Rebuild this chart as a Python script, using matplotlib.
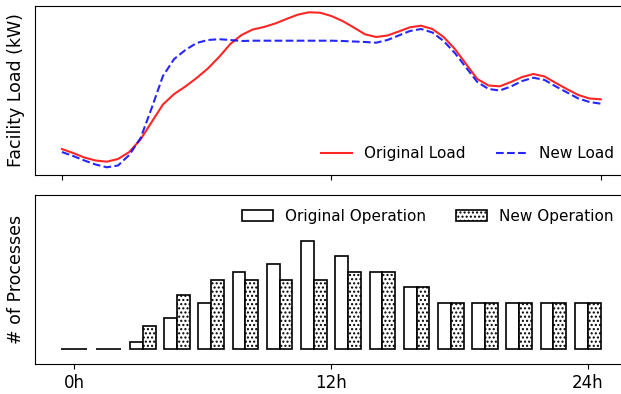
import numpy as np
import matplotlib
matplotlib.use('Agg')
import matplotlib.pyplot as plt

# load curves, read every half hour (arbitrary kW units)
hours = np.arange(0, 24.5, 0.5)
original_load = [26, 22, 17.5, 14.5, 13.3, 16, 23, 35.5, 53, 70.5,
                 81, 88.5, 97, 106.5, 118, 131, 140, 145.5, 148, 151.5,
                 156, 160.3, 162.7, 162.3, 159, 154, 147.5, 140.7, 138, 139.5,
                 143.5, 147.7, 149.3, 146, 138, 126, 111, 96, 89.5, 88.7,
                 93, 98, 101, 98.5, 92, 85.8, 80, 76.5, 75.7]
new_load = [23, 19, 14.5, 10.5, 7.7, 9.5, 20, 36.7, 67, 99,
            116, 125, 132, 135, 135.8, 135, 134, 134.3, 134.3, 134.3,
            134.3, 134.3, 134.3, 134.3, 134.3, 134, 133.5, 133, 132.3, 135,
            139.5, 144, 146, 142.5, 134, 122, 107.5, 93, 86, 84.5,
            88.5, 94, 97.3, 95, 88.5, 82.5, 76.5, 73, 71.3]

# process counts per slot
slots = np.linspace(0, 24, 16)
original_ops = [0, 0, 1, 4, 6, 10, 11, 14, 12, 10, 8, 6, 6, 6, 6, 6]
new_ops = [0, 0, 3, 7, 9, 9, 9, 9, 10, 10, 8, 6, 6, 6, 6, 6]

tick_pos = [0, 12, 24]
tick_labels = ['0h', '12h', '24h']

fig = plt.figure(figsize=(6.21, 3.94), dpi=100)
W = 593 / 621
ax1 = fig.add_axes([34.5 / 621, 1 - 175 / 394, W, 169.3 / 394])
ax2 = fig.add_axes([34.5 / 621, 1 - 364.3 / 394, W, 169.3 / 394])

ax1.plot(hours, original_load, color='red', alpha=0.85, lw=1.5, label='Original Load')
ax1.plot(hours, new_load, color='blue', alpha=0.85, lw=1.5, ls='--', label='New Load')
ax1.set_xlim(-1.22, 25.19)
ax1.set_ylim(0, 169.3)
ax1.set_xticks(tick_pos)
ax1.set_xticklabels([])
ax1.set_yticks([])
ax1.set_ylabel('Facility Load (kW)', fontsize=12.5, labelpad=7)
ax1.legend(loc='lower right', ncol=2, frameon=False, fontsize=11)

w = 0.6
ax2.bar(slots - w / 2, original_ops, w, color='white', edgecolor='black',
        lw=1.2, label='Original Operation')
ax2.bar(slots + w / 2, new_ops, w, color='white', edgecolor='black',
        lw=1.2, hatch='....', label='New Operation')
ax2.set_xlim(-1.86, 25.86)
ax2.set_ylim(-1.93, 19.9)
ax2.set_xticks(tick_pos)
ax2.set_xticklabels(tick_labels, fontsize=12)
ax2.set_yticks([])
ax2.set_ylabel('# of Processes', fontsize=12.5, labelpad=7)
ax2.legend(loc='upper right', ncol=2, frameon=False, fontsize=11)

fig.savefig('out.png', dpi=100)
